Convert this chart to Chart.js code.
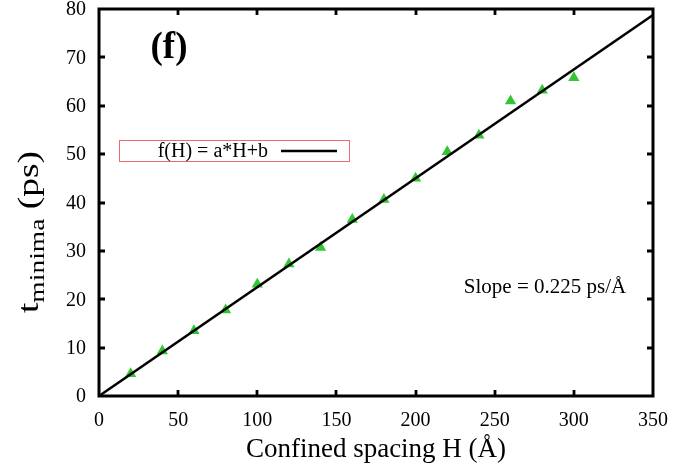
<!DOCTYPE html>
<html>
<head>
<meta charset="utf-8">
<script src="https://cdn.jsdelivr.net/npm/chart.js@4"></script>
<style>
  html, body { margin: 0; padding: 0; background: #fff; }
  #wrap { width: 699px; height: 467px; }
</style>
</head>
<body>
<div id="wrap"><canvas id="c" width="699" height="467"></canvas></div>
<script>
// Confined spacing H (Å) and the time of the minimum (ps)
const spacingH = [20, 40, 60, 80, 100, 120, 140, 160, 180, 200, 220, 240, 260, 280, 300];
const tMinima  = [4.6, 9.3, 13.5, 17.8, 23.1, 27.3, 30.7, 36.5, 40.6, 45.0, 50.5, 53.9, 61.0, 63.2, 65.8];

// Linear fit f(H) = a*H + b
const fitA = 0.225;
const fitB = 0;
const fitRange = [0, 350];

const xTicks = [0, 50, 100, 150, 200, 250, 300, 350];
const yTicks = [0, 10, 20, 30, 40, 50, 60, 70, 80];

const SERIF = '"Liberation Serif", "Times New Roman", serif';

const fitPoints = fitRange.map(h => ({ x: h, y: fitA * h + fitB }));
const dataPoints = spacingH.map((h, i) => ({ x: h, y: tMinima[i] }));

// Frame, inward ticks on all four sides, y labels, legend box and annotations
const decorations = {
  id: 'decorations',
  afterDatasetsDraw(chart) {
    const ctx = chart.ctx;
    const { left, right, top, bottom } = chart.chartArea;
    const xs = chart.scales.x, ys = chart.scales.y;
    ctx.save();
    ctx.strokeStyle = '#000';
    ctx.lineWidth = 2.8;
    const tl = 6;
    ctx.beginPath();
    xTicks.forEach(v => {
      const px = Math.round(xs.getPixelForValue(v));
      if (px <= left + 2 || px >= right - 2) return;
      ctx.moveTo(px, bottom); ctx.lineTo(px, bottom - tl);
      ctx.moveTo(px, top); ctx.lineTo(px, top + tl);
    });
    yTicks.forEach(v => {
      const py = Math.round(ys.getPixelForValue(v));
      if (py <= top + 2 || py >= bottom - 2) return;
      ctx.moveTo(left, py); ctx.lineTo(left + tl, py);
      ctx.moveTo(right, py); ctx.lineTo(right - tl, py);
    });
    ctx.stroke();
    ctx.lineWidth = 3;
    ctx.strokeRect(left, top, right - left, bottom - top);

    // y tick labels
    ctx.fillStyle = '#000';
    ctx.font = '20px ' + SERIF;
    ctx.textAlign = 'right';
    ctx.textBaseline = 'middle';
    yTicks.forEach(v => ctx.fillText(String(v), left - 13, ys.getPixelForValue(v) + 1));

    // panel tag
    ctx.font = 'bold 37px ' + SERIF;
    ctx.textAlign = 'center';
    ctx.textBaseline = 'alphabetic';
    ctx.fillText('(f)', 169, 58);

    // legend box
    const fit = chart.data.datasets[0];
    ctx.lineWidth = 1;
    ctx.strokeStyle = '#f06a6a';
    ctx.strokeRect(119.5, 140.5, 230, 21);
    ctx.font = '20px ' + SERIF;
    ctx.textAlign = 'right';
    ctx.textBaseline = 'middle';
    ctx.fillStyle = '#000';
    ctx.fillText(fit.label, 268, 152);
    ctx.strokeStyle = '#000';
    ctx.lineWidth = 2.5;
    ctx.beginPath();
    ctx.moveTo(281, 151); ctx.lineTo(337, 151);
    ctx.stroke();

    // slope annotation
    ctx.font = '21px ' + SERIF;
    ctx.textAlign = 'center';
    ctx.textBaseline = 'middle';
    ctx.fillText('Slope = ' + fitA.toFixed(3) + ' ps/Å', 545, 287);

    // y-axis title with subscript
    ctx.translate(38, 232);
    ctx.rotate(-Math.PI / 2);
    ctx.scale(1.25, 1);
    ctx.textBaseline = 'alphabetic';
    ctx.textAlign = 'left';
    const big = '30px ' + SERIF, small = '22px ' + SERIF;
    ctx.font = big; const wT = ctx.measureText('t').width;
    ctx.font = small; const wSub = ctx.measureText('minima').width;
    ctx.font = big; const wPs = ctx.measureText(' (ps)').width;
    let x0 = -(wT + wSub + wPs) / 2;
    ctx.font = big; ctx.fillText('t', x0, 0); x0 += wT;
    ctx.font = small; ctx.fillText('minima', x0, 6); x0 += wSub;
    ctx.font = big; ctx.fillText(' (ps)', x0, 0);
    ctx.restore();
  }
};

new Chart(document.getElementById('c'), {
  type: 'scatter',
  data: {
    datasets: [
      {
        type: 'line',
        label: 'f(H) = a*H+b',
        data: fitPoints,
        borderColor: '#000',
        borderWidth: 2.5,
        pointRadius: 0,
        fill: false,
        tension: 0
      },
      {
        label: 't_minima',
        data: dataPoints,
        pointStyle: 'triangle',
        pointRadius: 6.5,
        backgroundColor: '#33c633',
        borderColor: '#33c633',
        borderWidth: 0
      }
    ]
  },
  plugins: [decorations],
  options: {
    responsive: false,
    animation: false,
    layout: { padding: { left: 0, top: 9, right: 46, bottom: 0 } },
    plugins: { legend: { display: false }, tooltip: { enabled: false } },
    scales: {
      x: {
        type: 'linear', min: 0, max: 350,
        afterBuildTicks: s => { s.ticks = xTicks.map(v => ({ value: v })); },
        afterFit: s => { s.height = 71; },
        grid: { display: false, drawTicks: false },
        border: { display: false },
        ticks: { color: '#000', font: { family: SERIF, size: 20 }, padding: 13, maxRotation: 0 },
        title: {
          display: true, text: 'Confined spacing H (Å)', color: '#000',
          font: { family: SERIF, size: 27 }, padding: { top: 0, bottom: 1 }
        }
      },
      y: {
        type: 'linear', min: 0, max: 80,
        afterBuildTicks: s => { s.ticks = yTicks.map(v => ({ value: v })); },
        afterFit: s => { s.width = 99; },
        grid: { display: false, drawTicks: false },
        border: { display: false },
        ticks: { display: false }
      }
    }
  }
});
</script>
</body>
</html>
